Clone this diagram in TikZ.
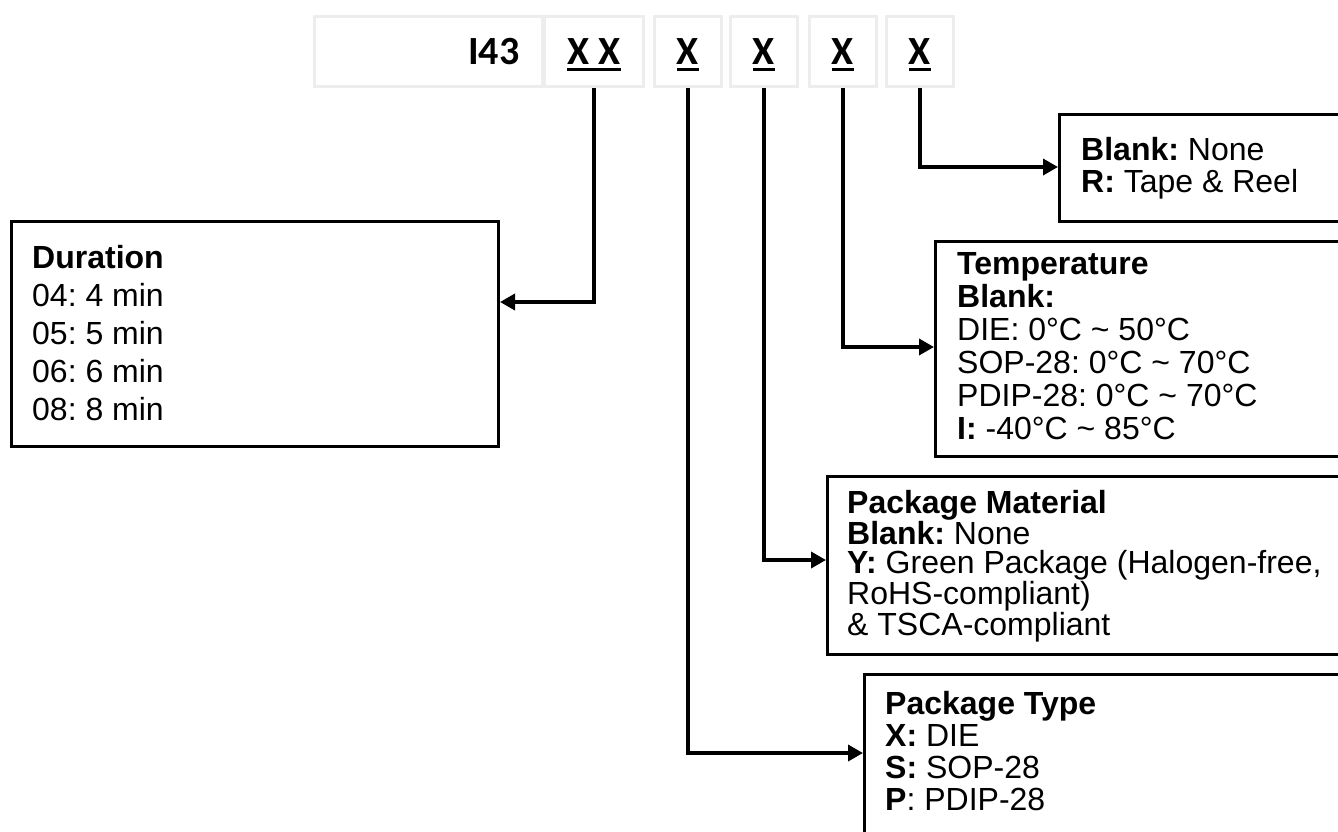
\documentclass[tikz,border=0pt]{standalone}
\usepackage{fontspec}
\setmainfont{Liberation Sans}
\newfontfamily\codefont{Carlito}
\usetikzlibrary{arrows.meta}

\newlength\codeulwd
\newcommand\codeul[1]{\settowidth\codeulwd{#1}\rlap{\rule[-6pt]{\codeulwd}{3pt}}#1}

\tikzset{
  cell/.style={draw=black!7, line width=3pt, minimum height=70pt, inner sep=0pt,
    anchor=north west, text height=26pt, text depth=0pt,
    font=\codefont\bfseries\fontsize{40}{40}\selectfont},
  infobox/.style={draw, line width=3pt, anchor=north west},
  infotext/.style={anchor=north west, align=left, inner sep=0pt},
  wire/.style={line width=3.5pt, -{Triangle[length=15pt,width=16pt]}},
}

\begin{document}
\frenchspacing
\begin{tikzpicture}[x=1pt, y=-1pt]
\useasboundingbox (0,0) rectangle (1338,831);
\clip (0,0) rectangle (1338,831);

% part number
\node [cell, minimum width=228pt, text width=182pt, inner xsep=23pt, align=right] (base) at (313,15) {I43};
\node [cell, minimum width=99pt] (dur code) at (543,15) {\codeul{X X}};
\node [cell, minimum width=67pt] (pkg code) at (653,15) {\codeul{X}};
\node [cell, minimum width=67pt] (mat code) at (729,15) {\codeul{X}};
\node [cell, minimum width=67pt] (temp code) at (808,15) {\codeul{X}};
\node [cell, minimum width=67pt] (reel code) at (885,15) {\codeul{X}};

% option boxes
\node [infobox, minimum width=487pt, minimum height=225pt] (dur) at (10,220) {};
\node [infobox, minimum width=320pt, minimum height=107pt] (reel) at (1058,113) {};
\node [infobox, minimum width=450pt, minimum height=215pt] (temp) at (934,240) {};
\node [infobox, minimum width=560pt, minimum height=178pt] (mat) at (826,475) {};
\node [infobox, minimum width=500pt, minimum height=200pt] (pkg) at (863,673) {};

\node [infotext, font=\fontsize{32}{38}\selectfont] (dur text) at ([shift={(22pt,-25pt)}]dur.north west)
  {\textbf{Duration}\\04: 4 min\\05: 5 min\\06: 6 min\\08: 8 min};
\node [infotext, font=\fontsize{32}{32}\selectfont] (reel text) at ([shift={(23pt,-24pt)}]reel.north west)
  {\textbf{Blank:} None\\\textbf{R:} Tape \& Reel};
\node [infotext, font=\fontsize{32}{33}\selectfont] (temp text) at ([shift={(23pt,-12pt)}]temp.north west)
  {\textbf{Temperature}\\\textbf{Blank:}\\DIE: 0°C \textasciitilde{} 50°C\\SOP-28: 0°C \textasciitilde{} 70°C\\PDIP-28: 0°C \textasciitilde{} 70°C\\\textbf{I:} -40°C \textasciitilde{} 85°C};
\node [infotext, font=\fontsize{32}{29}\selectfont] (mat text) at ([shift={(21pt,-15pt)}]mat.north west)
  {\textbf{Package Material}\\\textbf{Blank:} None\\\textbf{Y:} Green Package (Halogen-free,\\RoHS-compliant)\\\& TSCA-compliant};
\node [infotext, font=\fontsize{32}{32}\selectfont] (pkg text) at ([shift={(22pt,-18pt)}]pkg.north west)
  {\textbf{Package Type}\\\textbf{X:} DIE\\\textbf{S:} SOP-28\\\textbf{P}: PDIP-28};

% connectors
\draw [wire] (dur code.south) |- ([yshift=-82pt]dur.north east);
\draw [wire] (reel code.south) |- ([yshift=-54pt]reel.north west);
\draw [wire] (temp code.south) |- ([yshift=-107pt]temp.north west);
\draw [wire] (mat code.south) |- ([yshift=-85pt]mat.north west);
\draw [wire] (pkg code.south) |- ([yshift=-80pt]pkg.north west);
\end{tikzpicture}
\end{document}
